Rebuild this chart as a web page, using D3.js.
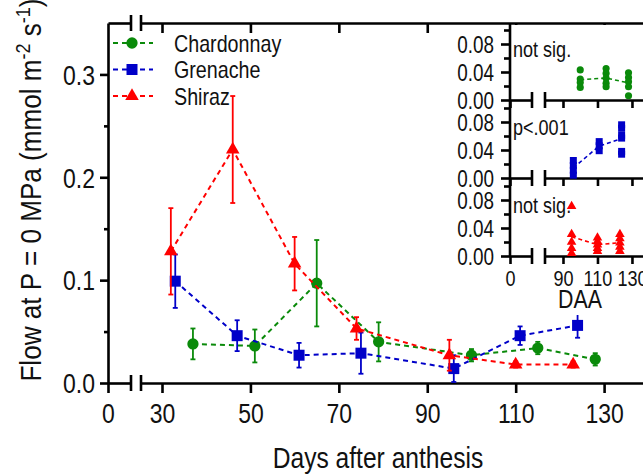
<!DOCTYPE html>
<html>
<head>
<meta charset="utf-8">
<script src="https://cdn.jsdelivr.net/npm/d3@7"></script>
<style>
  html, body { margin: 0; padding: 0; background: #fff; }
  svg text { font-family: 'Liberation Sans Narrow', 'Arial Narrow', 'Liberation Sans', Arial, sans-serif; fill: #111; }
</style>
</head>
<body>
<svg id="chart" width="643" height="475"></svg>
<script>
// ---- data: seasonal means (± SE) ----
const seriesNames = ["Chardonnay", "Grenache", "Shiraz"];
const chardDays = [37, 51, 65, 79, 100, 115, 128];
const chardFlow = [0.038, 0.036, 0.097, 0.040, 0.027, 0.034, 0.023];
const chardErr  = [0.015, 0.016, 0.042, 0.019, 0.006, 0.006, 0.006];
const grenDays  = [33, 47, 61, 75, 96, 111, 124];
const grenFlow  = [0.099, 0.046, 0.027, 0.029, 0.014, 0.046, 0.056];
const grenErr   = [0.026, 0.015, 0.012, 0.020, 0.013, 0.009, 0.012];
const shirDays  = [32, 46, 60, 74, 95, 110, 123];
const shirFlow  = [0.128, 0.227, 0.116, 0.053, 0.027, 0.018, 0.018];
const shirErr   = [0.042, 0.052, 0.026, 0.011, 0.015, 0.003, 0.003];

// ---- late-season replicates (inset panels) ----
const chardRepDays = [100, 115, 128];
const chardReps = [[0.043, 0.030, 0.025, 0.018], [0.045, 0.038, 0.031, 0.024, 0.019], [0.039, 0.032, 0.026, 0.019, 0.006]];
const grenRepDays = [96, 111, 124];
const grenReps = [[0.025, 0.018, 0.011, 0.004], [0.052, 0.046, 0.039], [0.076, 0.071, 0.061, 0.057, 0.038, 0.034]];
const shirRepDays = [95, 110, 123];
const shirReps = [[0.071, 0.031, 0.020, 0.011, 0.004], [0.026, 0.021, 0.016, 0.011, 0.007], [0.031, 0.025, 0.019, 0.013, 0.007]];
const panelNotes = ["not sig.", "p<.001", "not sig."];

// ---- tick values ----
const xTicks = [30, 50, 70, 90, 110, 130];
const yMajor = [0, 0.1, 0.2, 0.3];
const yMinor = [0.05, 0.15, 0.25];
const inXTicks = [90, 110, 130];
const inYMajor = [0, 0.04, 0.08];
const inYMinor = [0.02, 0.06, 0.1];

const colors = { Chardonnay: "#0a8a0a", Grenache: "#0000c8", Shiraz: "#ff0000" };
const shapes = { Chardonnay: d3.symbolCircle, Grenache: d3.symbolSquare, Shiraz: d3.symbolTriangle };

const svg = d3.select("#chart");
const AX = 2.6;
const NARROW = 0.82;   // horizontal squeeze for a condensed look

// ---- main scales (broken x axis) ----
const pLeft = 108, pTop = 23, pBottom = 383, pRight = 643;
const brk1 = 131, brk2 = 141;
const xA = d3.scaleLinear().domain([0, 5.2]).range([pLeft, brk1]);
const xB = d3.scaleLinear().domain([25.25, 138.8]).range([brk2, pRight]);
const y = d3.scaleLinear().domain([0, 0.35]).range([pBottom, pTop]);

function styleAxis(g) {
  g.selectAll("path.domain").attr("stroke", "#000").attr("stroke-width", AX);
  g.selectAll(".tick line").attr("stroke", "#000").attr("stroke-width", AX);
}

// bottom axis: left stub with tick at 0, right part with labels
const gxA = svg.append("g").attr("transform", `translate(0,${pBottom})`)
  .call(d3.axisBottom(xA).tickValues([0]).tickSize(10).tickSizeOuter(0).tickPadding(10).tickFormat(d3.format("d")));
const gxB = svg.append("g").attr("transform", `translate(0,${pBottom})`)
  .call(d3.axisBottom(xB).tickValues(xTicks).tickSize(10).tickSizeOuter(0).tickPadding(10).tickFormat(d3.format("d")));
[gxA, gxB].forEach(g => { styleAxis(g); g.selectAll("text").attr("font-size", 28).attr("fill", "#111"); });

// top axis with inward ticks
const gtA = svg.append("g").attr("transform", `translate(0,${pTop})`)
  .call(d3.axisBottom(xA).tickValues([]).tickSizeOuter(0));
const gtB = svg.append("g").attr("transform", `translate(0,${pTop})`)
  .call(d3.axisBottom(xB).tickValues(xTicks).tickSize(10).tickSizeOuter(0).tickFormat(""));
styleAxis(gtA); styleAxis(gtB);

// y axis
const gy = svg.append("g").attr("transform", `translate(${pLeft},0)`)
  .call(d3.axisLeft(y).tickValues(yMajor).tickSize(8).tickSizeOuter(0).tickPadding(5).tickFormat(d3.format(".1f")));
styleAxis(gy);
gy.selectAll("text").attr("font-size", 28).attr("fill", "#111").attr("dy", "0.35em");
const gyMinor = svg.append("g").attr("transform", `translate(${pLeft},0)`)
  .call(d3.axisLeft(y).tickValues(yMinor).tickSize(4).tickSizeOuter(0).tickFormat(""));
styleAxis(gyMinor);
gyMinor.select("path.domain").remove();

// axis break marks
[pTop, pBottom].forEach(yy => {
  [brk1, brk2].forEach(bx => {
    svg.append("line").attr("x1", bx).attr("x2", bx).attr("y1", yy - 8).attr("y2", yy + 8)
      .attr("stroke", "#000").attr("stroke-width", AX);
  });
});

// axis titles
svg.append("text").attr("x", 378).attr("y", 468).attr("text-anchor", "middle")
  .attr("font-size", 30).text("Days after anthesis");

const yt = svg.append("text").attr("class", "ytitle")
  .attr("transform", "translate(41,190) rotate(-90) scale(0.9,1)")
  .attr("text-anchor", "middle").attr("font-size", 29);
yt.append("tspan").text("Flow at P = 0 MPa (mmol m");
yt.append("tspan").attr("dy", -11).attr("font-size", 20).text("-2");
yt.append("tspan").attr("dy", 11).text(" s");
yt.append("tspan").attr("dy", -11).attr("font-size", 20).text("-1");
yt.append("tspan").attr("dy", 11).text(")");

// ---- series ----
const series = [
  { name: "Chardonnay", days: chardDays, flow: chardFlow, err: chardErr },
  { name: "Grenache", days: grenDays, flow: grenFlow, err: grenErr },
  { name: "Shiraz", days: shirDays, flow: shirFlow, err: shirErr }
];
const symSize = { Chardonnay: 100, Grenache: 121, Shiraz: 80 };

series.forEach(s => {
  const c = colors[s.name];
  const pts = s.days.map((d, i) => ({ d, v: s.flow[i], e: s.err[i] }));
  const g = svg.append("g");
  g.append("path").datum(pts)
    .attr("d", d3.line().x(p => xB(p.d)).y(p => y(p.v)))
    .attr("fill", "none").attr("stroke", c).attr("stroke-width", 2).attr("stroke-dasharray", "5,4");
  const eb = g.selectAll("g.eb").data(pts).join("g");
  eb.append("line").attr("x1", p => xB(p.d)).attr("x2", p => xB(p.d))
    .attr("y1", p => y(p.v - p.e)).attr("y2", p => y(p.v + p.e)).attr("stroke", c).attr("stroke-width", 1.8);
  [-1, 1].forEach(sg => {
    eb.append("line").attr("x1", p => xB(p.d) - 2.5).attr("x2", p => xB(p.d) + 2.5)
      .attr("y1", p => y(p.v + sg * p.e)).attr("y2", p => y(p.v + sg * p.e)).attr("stroke", c).attr("stroke-width", 1.8);
  });
  g.selectAll("path.m").data(pts).join("path").attr("class", "m")
    .attr("transform", p => `translate(${xB(p.d)},${y(p.v)})`)
    .attr("d", d3.symbol(shapes[s.name], symSize[s.name])).attr("fill", c);
});

// ---- legend ----
const lg = svg.append("g");
seriesNames.forEach((n, i) => {
  const ly = 43 + i * 26.5;
  lg.append("line").attr("x1", 113).attr("x2", 153).attr("y1", ly).attr("y2", ly)
    .attr("stroke", colors[n]).attr("stroke-width", 2).attr("stroke-dasharray", "5,4");
  lg.append("path").attr("transform", `translate(132,${ly})`)
    .attr("d", d3.symbol(shapes[n], symSize[n])).attr("fill", colors[n]);
  lg.append("text").attr("x", 174).attr("y", ly + 8.5).attr("font-size", 24).text(n);
});

// ---- inset: replicates per cultivar ----
const inset = svg.append("g");
inset.append("rect").attr("x", 450).attr("y", pTop + 2).attr("width", pRight - 450).attr("height", 290).attr("fill", "#fff");

const inLeft = 510, inBrk1 = 532, inBrk2 = 545;
const ixA = d3.scaleLinear().domain([0, 12.75]).range([inLeft, inBrk1]);
const ixB = d3.scaleLinear().domain([79.57, 136.4]).range([inBrk2, pRight]);
const panelZero = [100, 178, 256];
const reps = [
  { name: "Chardonnay", days: chardRepDays, vals: chardReps, size: 40 },
  { name: "Grenache", days: grenRepDays, vals: grenReps, size: 49 },
  { name: "Shiraz", days: shirRepDays, vals: shirReps, size: 40 }
];

// continuous inset y axis line
inset.append("line").attr("x1", inLeft).attr("x2", inLeft).attr("y1", pTop).attr("y2", panelZero[2])
  .attr("stroke", "#000").attr("stroke-width", AX);

reps.forEach((r, k) => {
  const z = panelZero[k];
  const iy = d3.scaleLinear().domain([0, 0.1]).range([z, z - 70]);
  const c = colors[r.name];
  const last = k === 2;

  const ga = inset.append("g").attr("transform", `translate(${inLeft},0)`)
    .call(d3.axisLeft(iy).tickValues(inYMajor).tickSize(9).tickSizeOuter(0).tickPadding(7).tickFormat(d3.format(".2f")));
  styleAxis(ga);
  ga.select("path.domain").remove();
  ga.selectAll("text").attr("font-size", 23).attr("fill", "#111").attr("dy", "0.35em");
  const gm = inset.append("g").attr("transform", `translate(${inLeft},0)`)
    .call(d3.axisLeft(iy).tickValues(inYMinor).tickSize(6).tickSizeOuter(0).tickFormat(""));
  styleAxis(gm);
  gm.select("path.domain").remove();

  const gxa = inset.append("g").attr("transform", `translate(0,${z})`)
    .call(d3.axisBottom(ixA).tickValues([0]).tickSize(8).tickSizeOuter(0).tickPadding(6).tickFormat(last ? d3.format("d") : ""));
  const gxb = inset.append("g").attr("transform", `translate(0,${z})`)
    .call(d3.axisBottom(ixB).tickValues(inXTicks).tickSize(8).tickSizeOuter(0).tickPadding(6).tickFormat(last ? d3.format("d") : ""));
  [gxa, gxb].forEach(g => { styleAxis(g); g.selectAll("text").attr("font-size", 22).attr("fill", "#111"); });
  [inBrk1, inBrk2].forEach(bx => {
    inset.append("line").attr("x1", bx).attr("x2", bx).attr("y1", z - 8).attr("y2", z + 8)
      .attr("stroke", "#000").attr("stroke-width", AX);
  });

  inset.append("text").attr("x", 513).attr("y", z - 43).attr("font-size", 22).text(panelNotes[k]);

  const means = r.days.map((d, i) => ({ d, v: d3.mean(r.vals[i]) }));
  inset.append("path").datum(means)
    .attr("d", d3.line().x(p => ixB(p.d)).y(p => iy(p.v)))
    .attr("fill", "none").attr("stroke", c).attr("stroke-width", 1.6).attr("stroke-dasharray", "4,3");
  const pts = r.days.flatMap((d, i) => r.vals[i].map(v => ({ d, v })));
  inset.selectAll(null).data(pts).join("path")
    .attr("transform", p => `translate(${ixB(p.d)},${iy(p.v)})`)
    .attr("d", d3.symbol(shapes[r.name], r.size)).attr("fill", c);
});

inset.append("text").attr("x", 580).attr("y", 308).attr("text-anchor", "middle").attr("font-size", 26).text("DAA");

// condense plain text labels horizontally (the rotated title is scaled by its transform)
svg.selectAll("text").filter(function () { return !this.classList.contains("ytitle") && this.textContent; })
  .each(function () {
    const L = this.getComputedTextLength();
    this.setAttribute("textLength", (L * NARROW).toFixed(2));
    this.setAttribute("lengthAdjust", "spacingAndGlyphs");
  });
</script>
</body>
</html>
